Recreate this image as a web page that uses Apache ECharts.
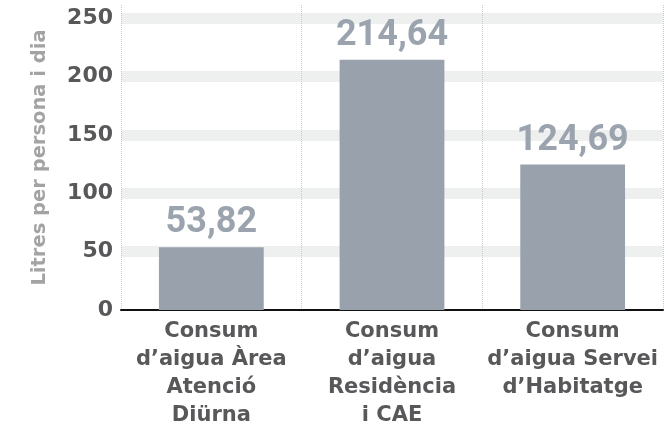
<!DOCTYPE html>
<html>
<head>
<meta charset="utf-8">
<script src="https://cdn.jsdelivr.net/npm/echarts@6/dist/echarts.min.js"></script>
<style>
  html, body { margin: 0; padding: 0; background: #fff; }
  #main { width: 668px; height: 430px; }
</style>
</head>
<body>
<div id="main"></div>
<script>
// dades
var categories = [
  'Consum\nd’aigua Àrea\nAtenció\nDiürna',
  'Consum\nd’aigua\nResidència\ni CAE',
  'Consum\nd’aigua Servei\nd’Habitatge'
];
var consum = [53.82, 214.64, 124.69];
var yTicks = [0, 50, 100, 150, 200, 250];
var yName = 'Litres per persona i dia';

var myChart = echarts.init(document.getElementById('main'));

// la primera i l'última línia (0 i el màxim) no es pinten
var bandColors = yTicks.map(function (t) { return t === 0 ? 'rgba(0,0,0,0)' : '#eef0ef'; });
bandColors.push('rgba(0,0,0,0)');

var option = {
  animation: false,
  grid: { left: 121, right: 5, top: 5, bottom: 119 },
  xAxis: {
    type: 'category',
    data: categories,
    axisTick: { show: false },
    axisLine: { show: true, lineStyle: { color: '#111', width: 2 } },
    splitLine: { show: true, lineStyle: { type: 'dotted', color: '#c8c8c8', width: 1 } },
    axisLabel: {
      interval: 0,
      margin: 8,
      color: '#58585a',
      fontFamily: 'DejaVu Sans',
      fontWeight: 'bold',
      fontSize: 21,
      lineHeight: 28,
      align: 'center'
    }
  },
  yAxis: {
    type: 'value',
    min: yTicks[0],
    max: 261.5,
    interval: 50,
    name: yName,
    nameLocation: 'middle',
    nameRotate: 90,
    nameGap: 71,
    nameTextStyle: {
      color: '#a3a3a3',
      fontFamily: 'DejaVu Sans',
      fontWeight: 'bold',
      fontSize: 19.5
    },
    axisLine: { show: false },
    axisTick: { show: false },
    axisLabel: {
      showMaxLabel: false,
      margin: 8,
      color: '#58585a',
      fontFamily: 'DejaVu Sans',
      fontWeight: 'bold',
      fontSize: 22
    },
    splitLine: { show: true, lineStyle: { color: bandColors, width: 11 } }
  },
  series: [{
    type: 'bar',
    data: consum,
    barWidth: '58%',
    itemStyle: { color: '#98a1ac' },
    label: {
      show: true,
      position: 'top',
      distance: 6,
      color: '#9ba4ae',
      fontFamily: 'Roboto',
      fontWeight: 'bold',
      fontSize: 36,
      formatter: function (p) { return p.value.toFixed(2).replace('.', ','); }
    }
  }]
};

myChart.setOption(option);
window.addEventListener('resize', function () { myChart.resize(); });
</script>
</body>
</html>
